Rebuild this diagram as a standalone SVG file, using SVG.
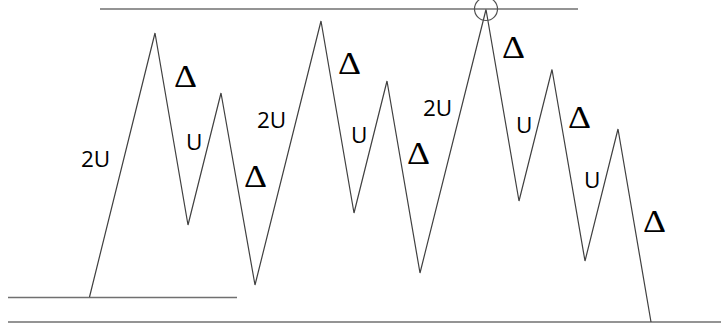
<svg xmlns="http://www.w3.org/2000/svg" width="721" height="329" viewBox="0 0 721 329">
<style>
.h{stroke:#707070;stroke-width:1.5;fill:none}
.z{stroke:#404040;stroke-width:1.2;fill:none;stroke-linejoin:miter}
.u{font-family:"Open Sans","Liberation Sans",sans-serif;font-size:22.5px;fill:#000}
.d{font-family:"Liberation Serif",serif;font-size:31px;fill:#000}
</style>
<rect width="721" height="329" fill="#fff"/>
<g id="connectors">
<line class="h" x1="100" y1="9" x2="578" y2="9"/>
<line class="h" x1="8" y1="297.5" x2="237" y2="297.5"/>
<line class="h" x1="8" y1="322" x2="721" y2="322"/>
<polyline class="z" points="89.5,297 155,33 188,225 221,93 255,285 321,21 354,213 387,81 420,273 486,9.5 519,201 552,69.5 585,261 618,129 651,322"/>
<circle cx="486" cy="9" r="11.5" fill="none" stroke="#505050" stroke-width="1.2"/>
</g>
<g id="labels">
<text class="u" x="81" y="167">2U</text>
<text class="u" x="186" y="150">U</text>
<text class="u" x="257" y="128">2U</text>
<text class="u" x="351" y="143">U</text>
<text class="u" x="423" y="116">2U</text>
<text class="u" x="516" y="133">U</text>
<text class="u" x="584" y="188">U</text>
<text class="d" x="174" y="87" textLength="23" lengthAdjust="spacingAndGlyphs">Δ</text>
<text class="d" x="244" y="187" textLength="23" lengthAdjust="spacingAndGlyphs">Δ</text>
<text class="d" x="338" y="74" textLength="23" lengthAdjust="spacingAndGlyphs">Δ</text>
<text class="d" x="407" y="164" textLength="23" lengthAdjust="spacingAndGlyphs">Δ</text>
<text class="d" x="502" y="58" textLength="23" lengthAdjust="spacingAndGlyphs">Δ</text>
<text class="d" x="568" y="128" textLength="23" lengthAdjust="spacingAndGlyphs">Δ</text>
<text class="d" x="643" y="232" textLength="23" lengthAdjust="spacingAndGlyphs">Δ</text>
</g>
</svg>
